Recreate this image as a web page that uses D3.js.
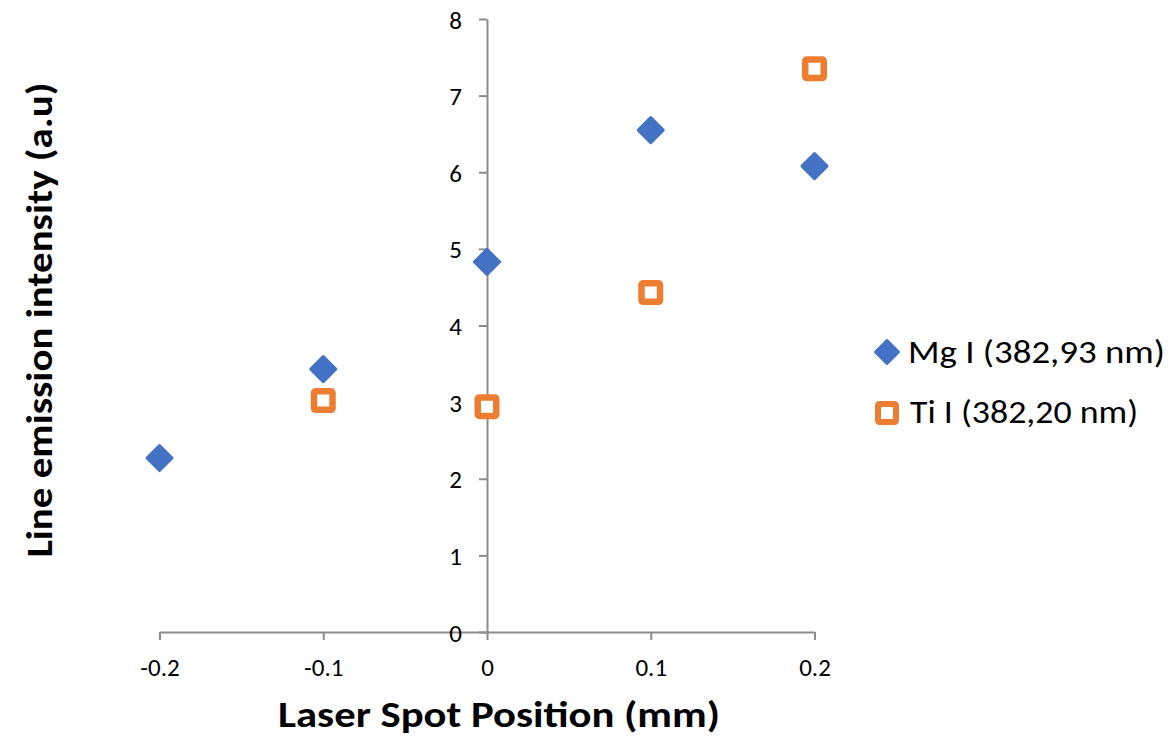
<!DOCTYPE html>
<html>
<head>
<meta charset="utf-8">
<script src="https://cdn.jsdelivr.net/npm/d3@7"></script>
<style>
  html, body { margin: 0; padding: 0; background: #fff; }
  svg { display: block; }
  text { font-family: Calibri, Carlito, Lato, sans-serif; fill: #000; }
</style>
</head>
<body>
<svg id="chart" width="1174" height="740"></svg>
<script>
// ---- data ----
const positions = [-0.2, -0.1, 0, 0.1, 0.2];
const mgValues = [2.27, 3.43, 4.83, 6.55, 6.08];
const tiPositions = [-0.1, 0, 0.1, 0.2];
const tiValues = [3.02, 2.94, 4.43, 7.35];
const xTicks = [-0.2, -0.1, 0, 0.1, 0.2];
const xTickLabels = ["-0.2", "-0.1", "0", "0.1", "0.2"];
const yTicks = [0, 1, 2, 3, 4, 5, 6, 7, 8];
const seriesNames = ["Mg I (382,93 nm)", "Ti I (382,20 nm)"];
const xTitle = "Laser Spot Position (mm)";
const yTitle = "Line emission intensity (a.u)";

const blue = "#4472C4", orange = "#ED7D31", axisGray = "#8c8c8c";

const svg = d3.select("#chart");
const x = d3.scaleLinear().domain([-0.2, 0.2]).range([159.5, 814.5]);
const y = d3.scaleLinear().domain([0, 8]).range([632, 19]);

// x axis at y=0
const xAxis = svg.append("g")
  .attr("transform", `translate(0,${y(0)})`)
  .call(d3.axisBottom(x).tickValues(xTicks).tickSize(8).tickSizeOuter(0).tickPadding(18)
    .tickFormat((d, i) => xTickLabels[i]));
// y axis at x=0
const yAxis = svg.append("g")
  .attr("transform", `translate(${x(0)},0)`)
  .call(d3.axisLeft(y).tickValues(yTicks).tickSize(8).tickSizeOuter(0).tickPadding(17)
    .tickFormat(d3.format("d")));

[xAxis, yAxis].forEach(g => {
  g.select(".domain").attr("stroke", axisGray).attr("stroke-width", 2);
  g.selectAll(".tick line").attr("stroke", axisGray).attr("stroke-width", 2);
  g.selectAll(".tick text").attr("font-size", 25).attr("font-family", "Calibri, Carlito, Lato, sans-serif").attr("fill", "#000");
});
xAxis.selectAll(".tick text").attr("dy", "0.72em");
yAxis.selectAll(".tick text").attr("dy", "0.36em");

// markers
const diamond = (cx, cy, r) => `M${cx},${cy - r}L${cx + r},${cy}L${cx},${cy + r}L${cx - r},${cy}Z`;

const mgData = positions.map((p, i) => ({ p, v: mgValues[i] }));
const tiData = tiPositions.map((p, i) => ({ p, v: tiValues[i] }));

svg.append("g").selectAll("path").data(mgData).join("path")
  .attr("d", d => diamond(x(d.p), y(d.v), 12.5))
  .attr("fill", blue).attr("stroke", blue).attr("stroke-width", 3).attr("stroke-linejoin", "round");

svg.append("g").selectAll("rect").data(tiData).join("rect")
  .attr("x", d => x(d.p) - 9.25).attr("y", d => y(d.v) - 9.25)
  .attr("width", 18.5).attr("height", 18.5).attr("rx", 1.5)
  .attr("fill", "#fff").attr("stroke", orange).attr("stroke-width", 6.5).attr("stroke-linejoin", "round");

// legend
const leg = svg.append("g");
leg.append("path").attr("d", diamond(887, 352, 11.5))
  .attr("fill", blue).attr("stroke", blue).attr("stroke-width", 3).attr("stroke-linejoin", "round");
leg.append("text").attr("x", 908).attr("y", 363).attr("font-size", 32)
  .attr("textLength", 257).attr("lengthAdjust", "spacingAndGlyphs").text(seriesNames[0]);
leg.append("rect").attr("x", 887 - 9).attr("y", 413 - 9).attr("width", 18).attr("height", 18).attr("rx", 1.5)
  .attr("fill", "#fff").attr("stroke", orange).attr("stroke-width", 6).attr("stroke-linejoin", "round");
leg.append("text").attr("x", 910).attr("y", 423).attr("font-size", 32)
  .attr("textLength", 228).attr("lengthAdjust", "spacingAndGlyphs").text(seriesNames[1]);

// axis titles
svg.append("text").attr("x", 499).attr("y", 727).attr("text-anchor", "middle")
  .attr("font-size", 37).attr("font-weight", "bold")
  .attr("textLength", 442).attr("lengthAdjust", "spacingAndGlyphs").text(xTitle);
svg.append("text").attr("transform", "translate(52,320) rotate(-90)").attr("text-anchor", "middle")
  .attr("font-size", 37).attr("font-weight", "bold")
  .attr("textLength", 475).attr("lengthAdjust", "spacingAndGlyphs").text(yTitle);
</script>
</body>
</html>
